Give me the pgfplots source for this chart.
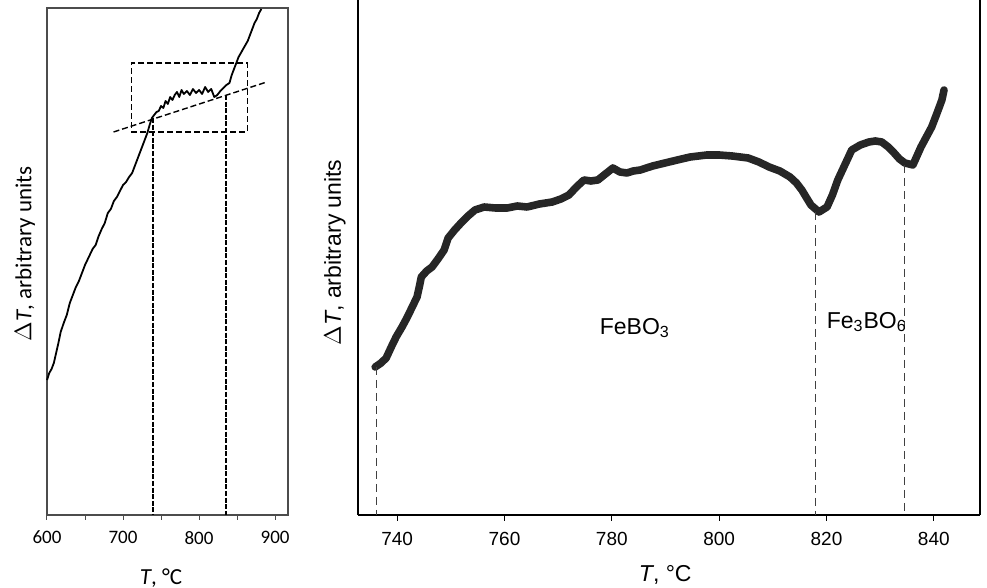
\documentclass[border=0pt]{standalone}
\usepackage{pgfplots}
\pgfplotsset{compat=1.18}
\usepackage{fontspec}
\setmainfont{Liberation Sans}
\newfontfamily\calib{Carlito}
\begin{document}
\begin{tikzpicture}
\useasboundingbox (0,0) rectangle (493.5pt,294pt);
% ---------------- left panel ----------------
\begin{axis}[
  at={(23.5pt,36.5pt)}, anchor=south west,
  scale only axis, width=120.5pt, height=253.5pt,
  xmin=600, xmax=917, ymin=0, ymax=507,
  xtick={600,700,800,900}, minor xtick={650,750,850},
  ytick=\empty, xtick pos=bottom, tick align=outside,
  major tick length=2.5pt, minor tick length=2.5pt,
  tick style={black!70, line width=0.5pt},
  axis line style={line width=0.6pt, black!70},
  /pgf/number format/assume math mode=true,
  xticklabel style={font=\calib\fontsize{9.5}{11}\selectfont, yshift=-2pt},
  xlabel={\textit{T}, °C},
  ylabel={$\Delta$\textit{T}, arbitrary units},
  label style={font=\calib\fontsize{11.5}{13}\selectfont},
  xlabel style={at={(axis description cs:0.473,-0.124)}, anchor=center},
  ylabel style={at={(axis description cs:-0.091,0.515)}, anchor=center},
  clip=false,
]
\addplot[black, line width=0.9pt, line join=round] coordinates {
(600,135)(603,142)(606,146)(609,152)(612,162)(615,172)(618,183)(622,192)
(626,200)(630,212)(634,220)(638,228)(642,234)(646,242)(650,250)(655,258)
(660,266)(664,270)(668,279)(672,286)(676,292)(680,302)(684,306)(688,314)
(692,318)(696,324)(700,330)(704,333)(708,338)(712,342)(716,350)(720,358)
(724,366)(728,374)(732,382)(735,390)(738,397)(741,400)(744,403)(747,404)
(750,409)(753,407)(756,414)(759,411)(762,418)(765,415)(768,420)(771,423)
(774,418)(777,425)(780,421)(784,424)(788,420)(792,426)(796,422)(800,425)
(804,421)(808,428)(812,423)(816,426)(820,418)(824,420)(828,424)(832,427)
(836,430)(840,432)(843,440)(846,446)(849,452)(852,458)(855,462)(858,466)
(861,470)(864,474)(867,480)(870,486)(873,492)(876,496)(879,502)(882,506)
};
% dashed box
\addplot[black, line width=0.7pt, dash pattern=on 3pt off 1.5pt] coordinates {
(711,383)(863.5,383)(863.5,452)(711,452)(711,383)
};
% tangent
\addplot[black, line width=0.7pt, dash pattern=on 3pt off 1.5pt] coordinates {
(687.5,383)(889,433)
};
% vertical lines
\addplot[black, line width=1.1pt, dash pattern=on 2.5pt off 0.8pt] coordinates {
(739,397)(739,0)
};
\addplot[black, line width=1.1pt, dash pattern=on 2.5pt off 0.8pt] coordinates {
(835.6,420)(835.6,0)
};
\end{axis}
% ---------------- right panel ----------------
\begin{axis}[
  at={(179pt,36.5pt)}, anchor=south west,
  scale only axis, width=311pt, height=257.5pt,
  xmin=732.7, xmax=848.6, ymin=0, ymax=515,
  axis x line=bottom, axis y line=box,
  axis line style={-, line width=1pt, black},
  xtick={740,760,780,800,820,840}, ytick=\empty,
  tick align=outside, major tick length=3pt,
  tick style={black, line width=0.6pt},
  /pgf/number format/assume math mode=true,
  xticklabel style={font=\fontsize{9.5}{11}\selectfont, yshift=-2pt},
  xlabel={\textit{T}, °C},
  ylabel={$\Delta$\textit{T}, arbitrary units},
  label style={font=\fontsize{11.5}{13}\selectfont},
  xlabel style={at={(axis description cs:0.494,-0.117)}, anchor=center},
  ylabel style={at={(axis description cs:-0.037,0.51)}, anchor=center},
  clip=false,
]
\addplot[black!85, line width=3.8pt, line join=round, line cap=round] coordinates {
(735.9,148)(737.0,152)(737.95,157)(738.9,168)(739.8,178)(740.9,188)(741.9,198)
(742.8,208)(743.7,218)(744.2,230)(744.5,238)(745.5,244)(746.5,248)(747.6,256)
(748.75,265)(749.5,277)(750.7,285)(751.9,292)(753.2,299)(754.5,305)(756.2,308)
(758.3,307)(760.5,307)(762.4,309)(764.2,308)(766.5,311)(768.9,313)(770.5,316)
(772.0,320)(773.4,328)(774.8,335)(776.1,334)(777.4,335)(778.8,341)(780.2,347)
(781.5,343)(782.8,342)(784.0,344)(785.3,345)(787.6,349)(789.9,352)(792.2,355)
(794.6,358)(797.7,360)(800.0,360)(802.4,359)(805.4,357)(807.4,353)(809.3,348)
(811.3,344)(813.2,338)(814.4,332)(815.4,325)(816.3,317)(817.1,310)(818.6,303)
(820.1,308)(821.1,320)(822.1,335)(823.4,350)(824.7,365)(826.3,370)(827.9,373)
(829.1,374)(830.3,373)(831.5,368)(832.6,362)(833.6,356)(834.6,352)(836.1,350)
(837.6,368)(838.6,378)(839.6,388)(840.6,402)(841.5,415)(841.9,425)
};
\addplot[black!75, line width=0.5pt, dash pattern=on 4pt off 2.5pt] coordinates {(736.2,148)(736.2,0)};
\addplot[black!75, line width=0.5pt, dash pattern=on 4pt off 2.5pt] coordinates {(817.9,303)(817.9,0)};
\addplot[black!75, line width=0.5pt, dash pattern=on 4pt off 2.5pt] coordinates {(834.5,350)(834.5,0)};
\node[font=\fontsize{11.5}{13}\selectfont] at (axis cs:784.3,187) {FeBO\textsubscript{3}};
\node[font=\fontsize{11.5}{13}\selectfont] at (axis cs:827.5,193) {Fe\textsubscript{3}BO\textsubscript{6}};
\end{axis}
\end{tikzpicture}
\end{document}
